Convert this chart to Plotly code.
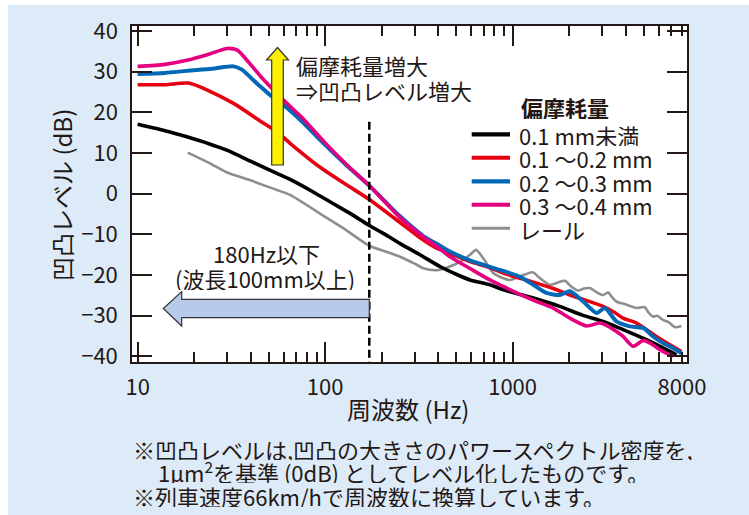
import plotly.graph_objects as go

# ---------------- data ----------------
series_names = ["0.1 mm未満", "0.1 ～0.2 mm", "0.2 ～0.3 mm", "0.3 ～0.4 mm", "レール"]
series_colors = ["#000000", "#E60012", "#0068B7", "#E4007F", "#8E8E8E"]

freq_black = [10, 14, 18.3, 24, 29.9, 40, 55.3, 65, 85, 110, 140, 172, 200, 250, 320, 410, 500,
              593, 757, 891, 1100, 1343, 1780, 2378, 3039, 3882, 5176, 6343, 7482]
db_black = [17.1, 15.5, 14.0, 12.3, 10.7, 8.0, 5.0, 3.5, 0.6, -2.4, -5.2, -7.8, -9.5, -12.2, -15.0,
            -17.9, -19.8, -21.2, -22.4, -23.6, -24.8, -25.9, -27.7, -29.9, -31.4, -33.4, -35.9, -37.9, -39.6]

freq_red = [10, 14, 18.7, 24, 32.5, 45, 55.3, 65, 94, 130, 172, 250, 334, 393, 480, 593, 757, 891,
            1100, 1343, 1650, 2021, 2500, 3039, 3500, 3882, 4578, 5848, 7948]
db_red = [26.8, 26.8, 27.2, 25.3, 22.2, 17.9, 15.2, 12.4, 6.5, 2.2, -1.4, -7.0, -11.4, -13.4, -15.0,
          -16.7, -18.2, -19.5, -20.8, -22.0, -23.3, -24.9, -26.3, -27.7, -29.2, -30.6, -31.8, -35.1, -38.8]

freq_blue = [10, 14, 18.3, 25, 32.5, 36, 40, 45, 51, 60, 75, 100, 130, 172, 250, 334, 400, 463, 593,
             757, 891, 1094, 1300, 1517, 1780, 2021, 2378, 2804, 3103, 3581, 4217, 4966, 5610, 6343,
             6886, 7948]
db_blue = [29.4, 29.7, 30.2, 30.7, 31.3, 30.5, 28.6, 26.4, 24.2, 21.8, 17.8, 12.0, 7.0, 2.0, -5.5,
           -10.4, -12.5, -14.2, -16.4, -18.0, -19.0, -20.4, -22.5, -24.4, -24.9, -24.0, -26.5, -29.3,
           -28.1, -31.4, -32.6, -33.0, -35.1, -36.7, -37.5, -39.2]

freq_mag = [10, 14, 18.3, 24, 30, 34, 38, 45, 52, 60, 75, 100, 130, 172, 250, 334, 400, 463, 593, 757,
            891, 1100, 1343, 1646, 2021, 2477, 2917, 3200, 3581, 3882, 4390, 4966, 5390, 6343, 7171]
db_mag = [31.3, 31.8, 32.8, 34.3, 35.7, 35.3, 33.0, 29.0, 25.9, 23.0, 18.8, 12.5, 7.2, 2.0, -5.8,
          -10.6, -13.2, -15.5, -18.4, -21.2, -22.8, -24.8, -26.5, -28.1, -30.6, -32.5, -31.8, -32.5,
          -33.9, -35.1, -37.5, -36.1, -36.7, -38.8, -40.0]

freq_rail = [18.5, 24, 30, 40, 55.3, 65, 100, 130, 172, 210, 251, 300, 334, 393, 463, 546, 600, 638,
             700, 788, 870, 967, 1100, 1278, 1400, 1580, 1750, 1899, 2050, 2236, 2400, 2581, 2800,
             3039, 3231, 3400, 3581, 4000, 4578, 5070, 5300, 5610, 5900, 6343, 6800, 7323, 7948]
db_rail = [10.1, 7.6, 5.2, 3.3, 0.9, -0.3, -5.7, -9.0, -12.8, -14.2, -15.5, -17.2, -18.3, -18.8,
           -17.9, -16.3, -14.8, -13.8, -16.0, -19.5, -20.6, -21.2, -20.3, -19.3, -20.8, -22.4, -21.8,
           -21.4, -22.8, -23.8, -23.3, -23.2, -24.2, -24.9, -24.3, -25.5, -26.5, -27.2, -28.1, -27.9,
           -29.2, -30.2, -30.0, -31.0, -31.6, -32.8, -32.5]

boundary_hz = 172          # dashed boundary ("180Hz以下")
boundary_db = [17.7, -41.37]

x_major_ticks = [10, 100, 1000]
x_label_ticks = [10, 100, 1000, 8000]
x_minor_ticks = [20, 30, 40, 50, 60, 70, 80, 90, 200, 300, 400, 500, 600, 700, 800, 900,
                 2000, 3000, 4000, 5000, 6000, 7000]
y_ticks = [-40, -30, -20, -10, 0, 10, 20, 30, 40]

# ---------------- layout helpers ----------------
FONT = "Noto Sans CJK JP"
TXT = "#231815"
L, T, W, H = 132, 26, 555, 336
FIG_W, FIG_H = 749, 515


def pp(px, py):
    return (px - L) / W, (T + H - py) / H


fig = go.Figure()

series = [(freq_black, db_black, 3.6), (freq_red, db_red, 3.6), (freq_blue, db_blue, 4.0),
          (freq_mag, db_mag, 3.6), (freq_rail, db_rail, 2.6)]
order = [4, 1, 0, 2, 3]
for i in order:
    fx, fy, wdt = series[i]
    fig.add_trace(go.Scatter(x=fx, y=fy, mode="lines", name=series_names[i],
                             line=dict(color=series_colors[i], width=wdt, shape="spline", smoothing=0.7),
                             showlegend=False))

fig.add_trace(go.Scatter(x=[boundary_hz, boundary_hz], y=boundary_db, mode="lines",
                         line=dict(color="#000000", width=2.5, dash="8px,4px"),
                         showlegend=False, hoverinfo="skip"))

# overlay axis for the long major ticks
fig.add_trace(go.Scatter(x=[], y=[], xaxis="x2", yaxis="y", showlegend=False, hoverinfo="skip"))

xr = [0.970, 3.930]
yr = [-41.37, 41.23]

fig.update_layout(
    width=FIG_W, height=FIG_H,
    margin=dict(l=L, r=FIG_W - L - W, t=T, b=FIG_H - T - H),
    paper_bgcolor="#DDEAF7", plot_bgcolor="#FFFFFF",
    font=dict(family=FONT, size=22, color=TXT),
    xaxis=dict(type="log", range=xr, tickvals=x_label_ticks,
               ticktext=[str(v) for v in x_label_ticks],
               ticks="inside", ticklen=10, tickwidth=1.5, tickcolor="#231815",
               minor=dict(tickvals=x_minor_ticks, ticks="inside", ticklen=10, tickwidth=1.5,
                          tickcolor="#231815", showgrid=False),
               showline=True, linewidth=1.5, linecolor="#231815", mirror="ticks",
               showgrid=False, zeroline=False, ticklabelstandoff=5,
               tickfont=dict(size=22, color=TXT, family=FONT)),
    xaxis2=dict(type="log", range=xr, overlaying="x", anchor="y", side="bottom",
                tickvals=x_major_ticks, ticks="inside", ticklen=20, tickwidth=1.5,
                tickcolor="#231815", showticklabels=False, showline=False, mirror="ticks",
                showgrid=False, zeroline=False),
    yaxis=dict(range=yr, tickvals=y_ticks, ticks="inside", ticklen=20, tickwidth=1.5,
               tickcolor="#231815", showline=True, linewidth=1.5, linecolor="#231815",
               mirror="ticks", showgrid=False, zeroline=False, ticklabelstandoff=8,
               tickfont=dict(size=22, color=TXT, family=FONT)),
)

shapes = []
# white strips at top and left edges of the picture
x0, _ = pp(0, 0)
x1, _ = pp(FIG_W, 0)
_, ya = pp(0, 0)
_, yb = pp(0, 5)
shapes.append(dict(type="rect", xref="paper", yref="paper", x0=x0, x1=x1, y0=yb, y1=ya,
                   fillcolor="#FFFFFF", line=dict(width=0), layer="below"))
xa, _ = pp(0, 0)
xb, _ = pp(8, 0)
_, y0 = pp(0, FIG_H)
shapes.append(dict(type="rect", xref="paper", yref="paper", x0=xa, x1=xb, y0=y0, y1=ya,
                   fillcolor="#FFFFFF", line=dict(width=0), layer="below"))


def path(points):
    s = ""
    for k, (px, py) in enumerate(points):
        x, y = pp(px, py)
        s += ("M" if k == 0 else "L") + f"{x:.5f},{y:.5f} "
    return s + "Z"


# yellow upward arrow
yellow = [(271.7, 165), (283.3, 165), (283.3, 60), (288.5, 60), (277.5, 47.5), (266.5, 60), (271.7, 60)]
shapes.append(dict(type="path", xref="paper", yref="paper", path=path(yellow),
                   fillcolor="#FFF000", line=dict(color="#333333", width=1.2)))
# blue leftward arrow
bluearr = [(369.3, 299.3), (181.7, 299.3), (181.7, 291.5), (163.3, 308.5), (181.7, 326),
           (181.7, 317.7), (369.3, 317.7)]
shapes.append(dict(type="path", xref="paper", yref="paper", path=path(bluearr),
                   fillcolor="#B7CAE9", line=dict(color="#333333", width=1.2)))

# legend line samples
leg_y = [134.3, 157.8, 181.3, 204.8, 228.3]
leg_w = [4.2, 4.0, 4.2, 4.0, 3.0]
for k in range(5):
    xa, ya_ = pp(471.7, leg_y[k])
    xb, _ = pp(510, leg_y[k])
    shapes.append(dict(type="line", xref="paper", yref="paper", x0=xa, x1=xb, y0=ya_, y1=ya_,
                       line=dict(color=series_colors[k], width=leg_w[k])))

fig.update_layout(shapes=shapes)

ann = []


def text(s, px, py, xanchor="left", size=22, angle=0, h=None):
    x, y = pp(px, py)
    a = dict(text=s, x=x, y=y, xref="paper", yref="paper", xanchor=xanchor, yanchor="middle",
             showarrow=False, textangle=angle, font=dict(family=FONT, size=size, color=TXT))
    if h is not None:
        a["height"] = h
        a["valign"] = "middle"
    ann.append(a)


text("偏摩耗量増大", 294, 65, h=24)
text("⇒凹凸レベル増大", 294, 90, h=24)
text("180Hz以下", 266.5, 253.3, "center", h=24)
text("(波長100mm以上)", 265, 278.3, "center", h=24)
text("<b>偏摩耗量</b>", 519, 106.7, h=24)
for k in range(5):
    text(series_names[k], 517, leg_y[k], h=23)
text("周波数 (Hz)", 408, 408.3, "center", size=24)
text("凹凸レベル (dB)", 61, 195, "center", size=24, angle=-90)
text("※凹凸レベルは,凹凸の大きさのパワースペクトル密度を,", 131, 448.3, h=23)
text("1μm<sup>2</sup>を基準 (0dB) としてレベル化したものです。", 156, 471.7, h=23)
text("※列車速度66km/hで周波数に換算しています。", 131, 495, h=23)

fig.update_layout(annotations=ann)

fig.write_html("out.html")
